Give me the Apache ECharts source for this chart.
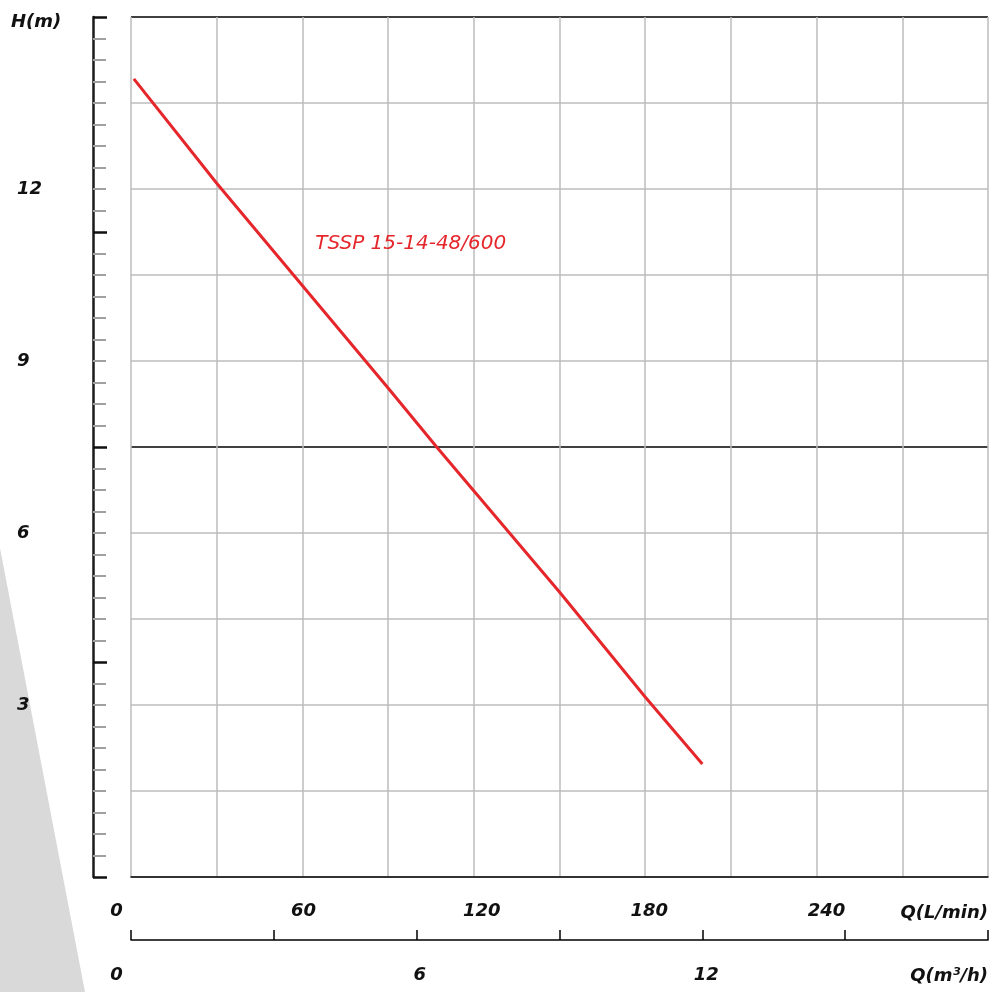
<!DOCTYPE html>
<html>
<head>
<meta charset="utf-8">
<script src="https://cdn.jsdelivr.net/npm/echarts@6/dist/echarts.min.js"></script>
<style>html,body{margin:0;padding:0;background:#fff}#c{width:991px;height:992px}</style>
</head>
<body>
<div id="c"></div>
<script>
// Data
var flowLmin = [1, 30, 90, 107, 150, 180, 200];
var headM = [13.92, 12.10, 8.53, 7.5, 4.97, 3.14, 1.97];
var seriesName = 'TSSP 15-14-48/600';
var hLabels = [3, 6, 9, 12];
var qLminLabels = [0, 60, 120, 180, 240];
var qM3hLabels = [0, 6, 12];
var labelPoint = [64.5, 11.04];

var FONT = 'DejaVu Sans';
var RED = '#e5262b';
var txt = {fontFamily: FONT, fontStyle: 'italic', fontWeight: 'bold', fontSize: 18, color: '#111'};

var chart = echarts.init(document.getElementById('c'), null, {renderer: 'canvas'});
var lmShift = {0: -14.5, 60: 1, 120: 8, 180: 4, 240: 10};
var m3Shift = {0: -14.5, 6: 3, 12: 4};
function richFor(shifts) {
  var r = {};
  Object.keys(shifts).forEach(function (k) {
    var s = shifts[k];
    r['s' + k] = Object.assign({}, txt, {padding: s >= 0 ? [0, 0, 0, 2 * s] : [0, -2 * s, 0, 0]});
  });
  return r;
}
var option = {
  animation: false,
  title: [
    {text: 'H(m)', left: 11, top: 13, padding: 0, textStyle: txt},
    {text: 'Q(L/min)', right: 3, top: 904, padding: 0, textStyle: txt},
    {text: 'Q(m³/h)', right: 3, top: 967, padding: 0, textStyle: txt}
  ],
  graphic: [{
    type: 'polygon', z: -100, silent: true,
    shape: {points: [[0, 548], [85, 992], [0, 992]]},
    style: {fill: '#d9d9d9'}
  }],
  grid: {left: 131, right: 1, top: 17, bottom: 115, show: false},
  xAxis: [{
    type: 'value', min: 0, max: 300, interval: 30, position: 'bottom',
    axisLine: {show: true, onZero: false, lineStyle: {color: '#000', width: 1.5}},
    axisTick: {show: false},
    splitLine: {show: true, lineStyle: {color: '#bdbdbd', width: 1.5}},
    axisLabel: {
      margin: 25,
      formatter: function (v) { return qLminLabels.indexOf(v) >= 0 ? '{s' + v + '|' + v + '}' : ''; },
      rich: richFor(lmShift), fontSize: 18
    }
  }, {
    type: 'value', min: 0, max: 18, interval: 3, position: 'bottom', offset: 63,
    axisLine: {show: true, onZero: false, lineStyle: {color: '#000', width: 1.5}},
    axisTick: {show: true, inside: true, length: 10, lineStyle: {color: '#000', width: 1.5}},
    splitLine: {show: false},
    axisLabel: {
      margin: 26,
      formatter: function (v) { return qM3hLabels.indexOf(v) >= 0 ? '{s' + v + '|' + v + '}' : ''; },
      rich: richFor(m3Shift), fontSize: 18
    }
  }],
  yAxis: [{
    type: 'value', min: 0, max: 15, interval: 1.5, position: 'left',
    axisLine: {show: false, onZero: false}, axisTick: {show: false},
    splitLine: {show: true, lineStyle: {color: ['#bdbdbd', '#bdbdbd', '#bdbdbd', '#bdbdbd', '#bdbdbd', '#000', '#bdbdbd', '#bdbdbd', '#bdbdbd', '#bdbdbd', '#000'], width: 1.5}},
    axisLabel: Object.assign({}, txt, {
      align: 'left', margin: 114, padding: [3, 0, 0, 0],
      formatter: function (v) { return hLabels.indexOf(v) >= 0 ? String(v) : ''; }
    })
  }, {
    type: 'value', min: 0, max: 15, interval: 3.75, position: 'left', offset: 38,
    axisLine: {show: true, onZero: false, lineStyle: {color: '#1a1a1a', width: 2.5}},
    axisTick: {show: true, inside: true, length: 14, lineStyle: {color: '#111', width: 2.5}},
    minorTick: {show: true, splitNumber: 10, length: 13, lineStyle: {color: '#a0a0a0', width: 2}},
    splitLine: {show: false},
    axisLabel: {show: false}
  }],
  series: [{
    name: seriesName, type: 'line', xAxisIndex: 0, yAxisIndex: 0,
    data: flowLmin.map(function (x, i) { return [x, headM[i]]; }),
    showSymbol: false, symbol: 'none', smooth: false,
    lineStyle: {color: RED, width: 3},
    markPoint: {
      symbol: 'circle', symbolSize: 0,
      data: [{coord: labelPoint, value: seriesName}],
      label: {show: true, position: 'right', distance: 0, formatter: seriesName,
        fontFamily: FONT, fontStyle: 'italic', fontWeight: 'normal', fontSize: 20, color: RED}
    }
  }]
};
chart.setOption(option);
</script>
</body>
</html>
